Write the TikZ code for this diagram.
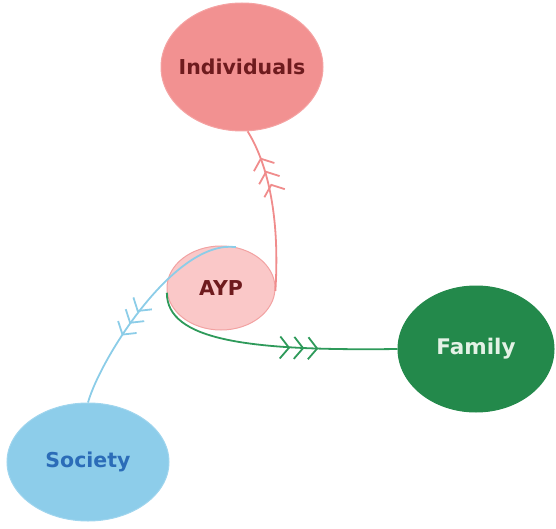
\documentclass[tikz,border=0pt]{standalone}
\usepackage{fontspec}
\setmainfont{DejaVu Sans}
\usetikzlibrary{shapes.geometric,arrows.meta,decorations.markings}
\definecolor{indfill}{HTML}{F29191}
\definecolor{inddraw}{HTML}{F5A3A3}
\definecolor{indtext}{HTML}{6E1B1E}
\definecolor{aypfill}{HTML}{FAC8C8}
\definecolor{aypdraw}{HTML}{F2A2A2}
\definecolor{famfill}{HTML}{23894B}
\definecolor{famtext}{HTML}{E4F2E6}
\definecolor{socfill}{HTML}{8DCDEA}
\definecolor{socdraw}{HTML}{9FD5EE}
\definecolor{soctext}{HTML}{2B6CB8}
\definecolor{redline}{HTML}{F08C8C}
\definecolor{blueline}{HTML}{8CCDE8}
\definecolor{greenline}{HTML}{2E9A5A}
\tikzset{
  bubble/.style={ellipse, inner sep=0pt, line width=1pt},
  txt/.style={font=\bfseries\fontsize{20.5}{24}\selectfont},
  link/.style={line width=1.8pt},
  triple/.style={decoration={markings, mark=at position #1 with {\arrow{Straight Barb[length=9pt,width=22pt,sep=3pt] Straight Barb[length=9pt,width=22pt,sep=3pt] Straight Barb[length=9pt,width=22pt,sep=3pt]}}}, postaction={decorate}}
}
\begin{document}
\begin{tikzpicture}[x=1pt,y=-1pt]
\useasboundingbox (0,0) rectangle (556,529);
\node[bubble, fill=indfill, draw=inddraw, minimum width=162pt, minimum height=128pt, label={[txt, text=indtext]center:Individuals}] (ind) at (242,67) {};
\node[bubble, fill=aypfill, draw=aypdraw, minimum width=108pt, minimum height=84pt, label={[txt, text=indtext]center:AYP}] (ayp) at (221,288) {};
\node[bubble, fill=famfill, draw=famfill, minimum width=156pt, minimum height=126pt, label={[txt, text=famtext, font=\bfseries\fontsize{21.5}{25}\selectfont]center:Family}] (fam) at (476,349) {};
\node[bubble, fill=socfill, draw=socdraw, minimum width=162pt, minimum height=118pt, label={[txt, text=soctext]center:Society}] (soc) at (88,462) {};
\draw[link, draw=redline, triple=0.84] (ayp.357) .. controls +(5,-80) and +(18,29) .. (ind.275);
\draw[link, draw=blueline, triple=0.68] (ayp.70) .. controls +(-61,-8) and +(12,-43) .. (soc.90);
\draw[link, draw=greenline, triple=0.70] (ayp.185) .. controls +(0,48) and +(-148,2) .. (fam.west);
\end{tikzpicture}
\end{document}
